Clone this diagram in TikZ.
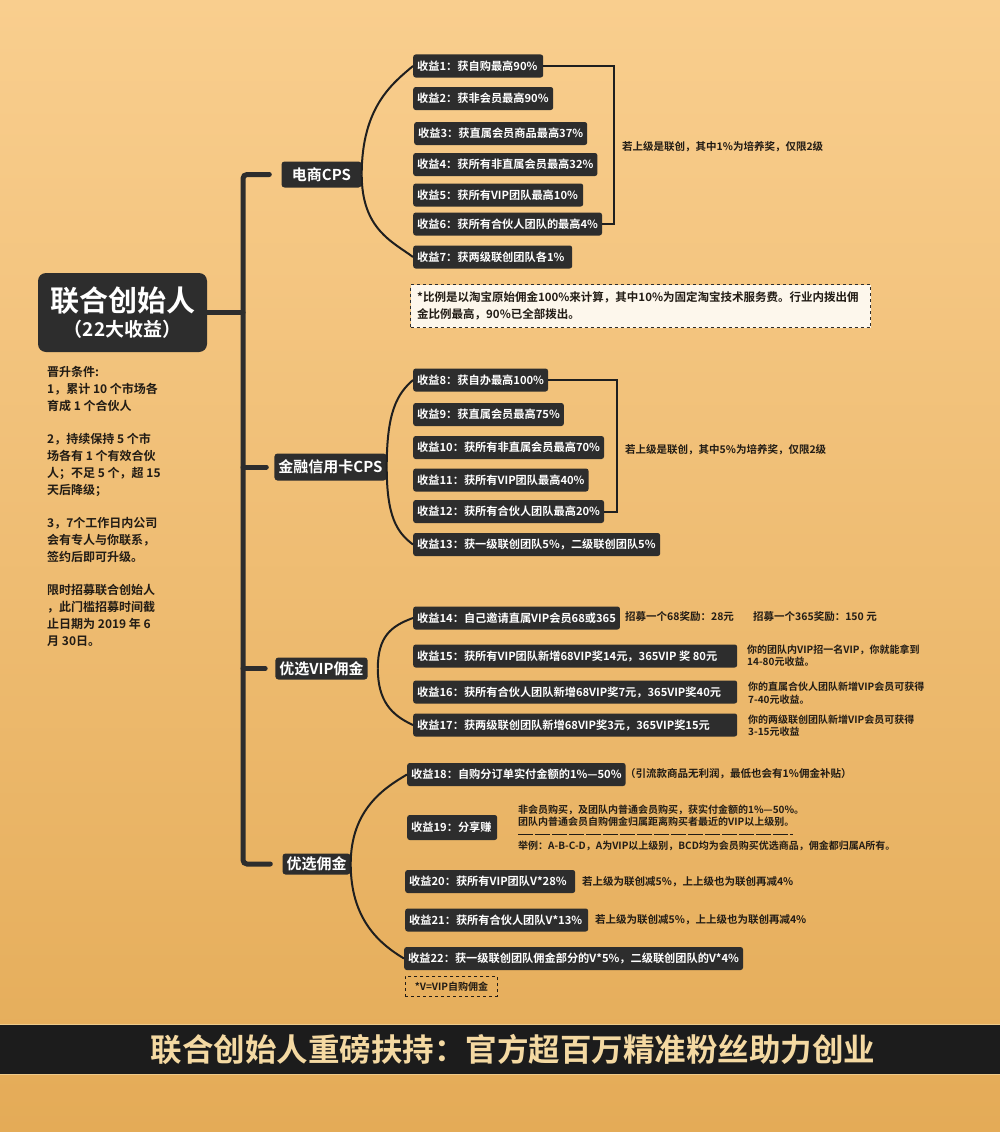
\documentclass[tikz,border=0pt]{standalone}
\usepackage{fontspec}
\setmainfont{Noto Sans CJK SC}[BoldFont={Noto Sans CJK SC Bold}]
\usetikzlibrary{calc}
\definecolor{bgtop}{HTML}{F9CE8E}
\definecolor{bgbot}{HTML}{E4AB57}
\definecolor{boxc}{HTML}{2D2D2D}
\definecolor{linec}{HTML}{1F1F1F}
\definecolor{txtc}{HTML}{221C15}
\definecolor{bantxt}{HTML}{F4D9A2}
\definecolor{notefill}{HTML}{FDF7EC}
\definecolor{banbg}{HTML}{1C1C1C}
\newsavebox{\lfsave}
\newcommand\lfbox[2]{\sbox{\lfsave}{#2}\ifdim\wd\lfsave<#1\relax\makebox[#1][l]{\usebox{\lfsave}}\else\usebox{\lfsave}\fi}
\begin{document}
\begin{tikzpicture}[x=1pt,y=-1pt,
  leaf/.style={fill=boxc, text=white, font=\fontsize{11.2}{13}\selectfont\bfseries, rounded corners=2.5pt, anchor=west, minimum height=23pt, inner xsep=4pt, inner ysep=2pt},
  cat/.style={fill=boxc, text=white, font=\fontsize{15}{17}\selectfont\bfseries, rounded corners=3pt, inner xsep=4pt, inner ysep=2pt},
  note/.style={text=txtc, font=\fontsize{10.5}{13}\selectfont\bfseries, anchor=west, inner sep=0pt, align=left},
  smallnote/.style={text=txtc, font=\fontsize{10}{12.5}\selectfont\bfseries, anchor=west, inner sep=0pt, align=left},
  con/.style={draw=linec, line width=2pt},
  trunk/.style={draw=boxc, line width=5pt, line cap=round, rounded corners=4pt}
]
\useasboundingbox (0,0) rectangle (1000,1132);
\fill[top color=bgtop,bottom color=bgbot] (0,0) rectangle (1000,1132);

% bottom banner
\fill[banbg] (0,1025) rectangle (1000,1074);
\draw[bantxt!70!bgbot, line width=1pt] (0,1024.5) -- (1000,1024.5);
\draw[bantxt!70!bgbot, line width=1pt] (0,1074.5) -- (1000,1074.5);
\node[font=\fontsize{31.5}{35}\selectfont\bfseries, text=bantxt] (banner) at (513,1049) {联合创始人重磅扶持：官方超百万精准粉丝助力创业};

% main node
\node[fill=boxc, text=white, rounded corners=8pt, minimum width=169pt, minimum height=79pt, align=center, inner sep=0pt] (main) at (122.5,312.5)
  {\fontsize{29}{33}\selectfont\bfseries 联合创始人\\[5pt]\fontsize{19}{22}\selectfont\bfseries （22大收益）};

\node[text=txtc, anchor=north west, align=left, inner sep=0pt, font=\fontsize{12}{16.8}\selectfont\bfseries] (cond) at (47,366)
{晋升条件:\\
1，累计 10 个市场各\\
育成 1 个合伙人\\[16.8pt]
2，持续保持 5 个市\\
场各有 1 个有效合伙\\
人；不足 5 个，超 15\\
天后降级；\\[16.8pt]
3，7个工作日内公司\\
会有专人与你联系，\\
签约后即可升级。\\[16.8pt]
限时招募联合创始人\\
，此门槛招募时间截\\
止日期为 2019 年 6\\
月 30日。};

% categories
\node[cat, minimum width=80pt, minimum height=26pt] (ec) at (321.5,174.5) {电商CPS};
\node[cat, minimum width=107pt, minimum height=27pt] (jr) at (330.5,467) {金融信用卡CPS};
\node[cat, minimum width=87pt, minimum height=22pt] (vip) at (321.5,668.5) {优选VIP佣金};
\node[cat, minimum width=68pt, minimum height=21pt] (yx) at (316.5,864) {优选佣金};

% trunk
\coordinate (tx) at (243,0);
\draw[trunk] ($(ec.west)+(-12,0)$) -- (tx |- ec.west) -- (tx |- yx.west) -- ($(yx.west)+(-12,0)$);
\draw[trunk] (tx |- jr.west) -- ($(jr.west)+(-8,0)$);
\draw[trunk] (tx |- vip.west) -- ($(vip.west)+(-10,0)$);
\draw[trunk] (main.east) -- (tx |- main.east);

% leaves e-commerce
\node[leaf] (l1) at (413,66) {\lfbox{122pt}{收益1：获自购最高90\%}};
\node[leaf] (l2) at (413,98.5) {\lfbox{132pt}{收益2：获非会员最高90\%}};
\node[leaf] (l3) at (414,133.5) {\lfbox{160pt}{收益3：获直属会员商品最高37\%}};
\node[leaf] (l4) at (413,164.5) {\lfbox{167pt}{收益4：获所有非直属会员最高32\%}};
\node[leaf] (l5) at (413,195) {\lfbox{162pt}{收益5：获所有VIP团队最高10\%}};
\node[leaf] (l6) at (413,224) {\lfbox{170pt}{收益6：获所有合伙人团队的最高4\%}};
\node[leaf] (l7) at (413,257) {\lfbox{151pt}{收益7：获两级联创团队各1\%}};

\draw[con] (ec.east) .. controls +(0,-68) and +(-20,17) .. (l1.west);
\draw[con] (ec.east) .. controls +(0,55) and +(-20,-15) .. (l7.west);
\coordinate (b1) at (614,0);
\draw[con] (l1.east) -- (l1.east -| b1) -- (l6.east -| b1) -- (l6.east);
\node[note] (t1) at (622,147) {若上级是联创，其中1\%为培养奖，仅限2级};

% dashed note
\node[draw=boxc, dashed, line width=1.1pt, fill=notefill, anchor=north west, minimum width=460pt, minimum height=43pt, inner sep=0pt] (dn) at (410,284) {};
\node[note, font=\fontsize{11.5}{17}\selectfont\bfseries] (dnt) at (417,305.5) {*比例是以淘宝原始佣金100\%来计算，其中10\%为固定淘宝技术服务费。行业内拨出佣\\金比例最高，90\%已全部拨出。};

% finance leaves
\node[leaf] (l8) at (413,380) {\lfbox{122pt}{收益8：获自办最高100\%}};
\node[leaf] (l9) at (413,414.5) {\lfbox{139pt}{收益9：获直属会员最高75\%}};
\node[leaf] (l10) at (413,447.5) {\lfbox{179pt}{收益10：获所有非直属会员最高70\%}};
\node[leaf] (l11) at (413,480) {\lfbox{165pt}{收益11：获所有VIP团队最高40\%}};
\node[leaf] (l12) at (413,511.5) {\lfbox{180pt}{收益12：获所有合伙人团队最高20\%}};
\node[leaf] (l13) at (413,544.5) {\lfbox{239pt}{收益13：获一级联创团队5\%，二级联创团队5\%}};

\draw[con] (jr.east) .. controls +(0,-55) and +(-16,14) .. (l8.west);
\draw[con] (jr.east) .. controls +(0,50) and +(-16,-12) .. (l13.west);
\coordinate (b2) at (617,0);
\draw[con] (l8.east) -- (l8.east -| b2) -- (l12.east -| b2) -- (l12.east);
\node[note] (t2) at (625,450) {若上级是联创，其中5\%为培养奖，仅限2级};

% VIP leaves
\node[leaf] (l14) at (413,618) {\lfbox{197pt}{收益14：自己邀请直属VIP会员68或365}};
\node[leaf] (l15) at (413,656) {\lfbox{316pt}{收益15：获所有VIP团队新增68VIP奖14元，365VIP 奖 80元}};
\node[leaf] (l16) at (413,692) {\lfbox{316pt}{收益16：获所有合伙人团队新增68VIP奖7元，365VIP奖40元}};
\node[leaf] (l17) at (413,725) {\lfbox{316pt}{收益17：获两级联创团队新增68VIP奖3元，365VIP奖15元}};

\coordinate (vc) at ($(vip.east)+(10,0)$);
\draw[con] (vc) .. controls +(0,-32) and +(-22,8) .. (l14.west);
\draw[con] (vc) .. controls +(0,32) and +(-22,-10) .. (l17.west);

\node[note] (t14a) at (625,617) {招募一个68奖励：28元};
\node[note] (t14b) at (753,617) {招募一个365奖励：150 元};
\node[smallnote] (t15) at (747,655.5) {你的团队内VIP招一名VIP，你就能拿到\\14-80元收益。};
\node[smallnote] (t16) at (748,693) {你的直属合伙人团队新增VIP会员可获得\\7-40元收益。};
\node[smallnote] (t17) at (748,725.5) {你的两级联创团队新增VIP会员可获得\\3-15元收益};

% youxuan leaves
\node[leaf] (l18) at (407,774.5) {\lfbox{205pt}{收益18：自购分订单实付金额的1\%—50\%}};
\node[leaf, minimum height=25pt] (l19) at (407,827.5) {\lfbox{82pt}{收益19：分享赚}};
\node[leaf] (l20) at (405,881.5) {\lfbox{162pt}{收益20：获所有VIP团队V*28\%}};
\node[leaf] (l21) at (405,920) {\lfbox{175pt}{收益21：获所有合伙人团队V*13\%}};
\node[leaf] (l22) at (404,958.5) {\lfbox{325pt}{收益22：获一级联创团队佣金部分的V*5\%，二级联创团队的V*4\%}};

\draw[con] (yx.east) .. controls +(0,-55) and +(-22,13) .. (l18.west);
\draw[con] (yx.east) .. controls +(0,55) and +(-25,-15) .. (l22.west);

\node[note] (t18) at (625,773.5) {（引流款商品无利润，最低也会有1\%佣金补贴）};
\node[smallnote, font=\fontsize{10}{12}\selectfont\bfseries] (t19a) at (518,816) {非会员购买，及团队内普通会员购买，获实付金额的1\%—50\%。\\团队内普通会员自购佣金归属距离购买者最近的VIP以上级别。};
\coordinate (sepa) at (518,834);
\coordinate (sepb) at (793,834);
\draw[txtc, line width=0.8pt, dash pattern=on 15pt off 2pt] (sepa) -- (sepb);
\node[smallnote] (t19b) at (518,846) {举例：A-B-C-D，A为VIP以上级别，BCD均为会员购买优选商品，佣金都归属A所有。};
\node[note] (t20) at (582,882) {若上级为联创减5\%，上上级也为联创再减4\%};
\node[note] (t21) at (595,919.5) {若上级为联创减5\%，上上级也为联创再减4\%};

\node[draw=txtc, dashed, line width=0.9pt, anchor=north west, minimum width=92pt, minimum height=20pt, inner sep=0pt, text=txtc, font=\fontsize{10}{12}\selectfont\bfseries] (vn) at (405,976) {*V=VIP自购佣金};
\end{tikzpicture}
\end{document}
